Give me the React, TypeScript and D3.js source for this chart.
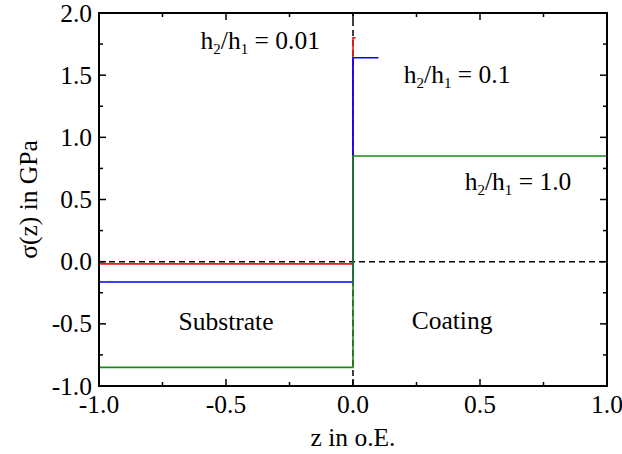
import { useEffect, useRef } from "react";
import * as d3 from "d3";

// stress profiles, one per thickness ratio h2/h1
const ratioLabels = ["0.01", "0.1", "1.0"];
const coatingThickness = [0.01, 0.1, 1.0];
const coatingStress = [1.8, 1.64, 0.85];
const substrateStress = [-0.018, -0.164, -0.85];
const colors = ["#f01818", "#0000ff", "#1a8a1a"];
// where the ratio labels sit (data coords)
const labelX = [-0.6, 0.2, 0.44];
const labelY = [1.71, 1.44, 0.58];

const xTicks = [-1.0, -0.5, 0.0, 0.5, 1.0];
const yTicks = [-1.0, -0.5, 0.0, 0.5, 1.0, 1.5, 2.0];

const FONT = "Liberation Serif, DejaVu Serif, Times New Roman, serif";

const App = () => {
  const svgRef = useRef<SVGSVGElement>(null);
  const width = 622;
  const height = 454;
  const margin = { top: 13, left: 99, bottom: 68, right: 15 };

  useEffect(() => {
    const svg = d3.select(svgRef.current);
    svg.selectAll("*").remove();

    const x = d3
      .scaleLinear()
      .domain([-1, 1])
      .range([margin.left, width - margin.right]);
    const y = d3
      .scaleLinear()
      .domain([-1, 2])
      .range([height - margin.bottom, margin.top]);

    // dashed zero lines
    svg
      .append("line")
      .attr("x1", x(-1))
      .attr("x2", x(1))
      .attr("y1", y(0))
      .attr("y2", y(0))
      .attr("stroke", "black")
      .attr("stroke-width", 1.5)
      .attr("stroke-dasharray", "6,4");
    svg
      .append("line")
      .attr("x1", x(0))
      .attr("x2", x(0))
      .attr("y1", y(-1))
      .attr("y2", y(2))
      .attr("stroke", "black")
      .attr("stroke-width", 1.5)
      .attr("stroke-dasharray", "6,4");

    const line = d3
      .line<[number, number]>()
      .x((d) => x(d[0]))
      .y((d) => y(d[1]));

    ratioLabels.forEach((_, i) => {
      const pts: [number, number][] = [
        [-1, substrateStress[i]],
        [0, substrateStress[i]],
        [0, coatingStress[i]],
        [coatingThickness[i], coatingStress[i]],
      ];
      svg
        .append("path")
        .attr("d", line(pts))
        .attr("fill", "none")
        .attr("stroke", colors[i])
        .attr("stroke-width", 1.6);
    });

    // frame with inward ticks on all sides
    const tickLen = 7;
    const minorLen = 4;
    const g = svg.append("g").attr("stroke", "black").attr("stroke-width", 1.5);
    g.append("rect")
      .attr("x", x(-1))
      .attr("y", y(2))
      .attr("width", x(1) - x(-1))
      .attr("height", y(-1) - y(2))
      .attr("fill", "none")
      .attr("stroke-width", 2);

    const xMinor = d3.range(-1, 1.001, 0.25);
    xMinor.forEach((v) => {
      const major = Math.abs(v * 2 - Math.round(v * 2)) < 1e-6;
      const len = major ? tickLen : minorLen;
      g.append("line").attr("x1", x(v)).attr("x2", x(v)).attr("y1", y(-1)).attr("y2", y(-1) - len);
      g.append("line").attr("x1", x(v)).attr("x2", x(v)).attr("y1", y(2)).attr("y2", y(2) + len);
    });
    const yMinor = d3.range(-1, 2.001, 0.25);
    yMinor.forEach((v) => {
      const major = Math.abs(v * 2 - Math.round(v * 2)) < 1e-6;
      const len = major ? tickLen : minorLen;
      g.append("line").attr("x1", x(-1)).attr("x2", x(-1) + len).attr("y1", y(v)).attr("y2", y(v));
      g.append("line").attr("x1", x(1)).attr("x2", x(1) - len).attr("y1", y(v)).attr("y2", y(v));
    });

    const fmt = (d: number) => d3.format(".1f")(d).replace("−", "-");

    // tick labels
    svg
      .selectAll(".xt")
      .data(xTicks)
      .enter()
      .append("text")
      .attr("x", (d) => x(d))
      .attr("y", y(-1) + 27)
      .attr("text-anchor", "middle")
      .style("font-family", FONT)
      .style("font-size", "25.5px")
      .text(fmt);
    svg
      .selectAll(".yt")
      .data(yTicks)
      .enter()
      .append("text")
      .attr("x", x(-1) - 7)
      .attr("y", (d) => y(d) + 8.5)
      .attr("text-anchor", "end")
      .style("font-family", FONT)
      .style("font-size", "25.5px")
      .text(fmt);

    // axis titles
    svg
      .append("text")
      .attr("x", x(0))
      .attr("y", 446)
      .attr("text-anchor", "middle")
      .style("font-family", FONT)
      .style("font-size", "25.5px")
      .text("z in o.E.");
    svg
      .append("text")
      .attr("transform", `translate(37,${y(0.5)}) rotate(-90)`)
      .attr("text-anchor", "middle")
      .style("font-family", FONT)
      .style("font-size", "25.5px")
      .text("σ(z) in GPa");

    // ratio labels with subscripts
    ratioLabels.forEach((r, i) => {
      const t = svg
        .append("text")
        .attr("x", x(labelX[i]))
        .attr("y", y(labelY[i]))
        .style("font-family", FONT)
        .style("font-size", "25.5px");
      t.append("tspan").text("h");
      t.append("tspan").style("font-size", "15px").attr("dy", 5).text("2");
      t.append("tspan").attr("dy", -5).text("/h");
      t.append("tspan").style("font-size", "15px").attr("dy", 5).text("1");
      t.append("tspan").attr("dy", -5).text(` = ${r}`);
    });

    svg
      .append("text")
      .attr("x", x(-0.5))
      .attr("y", y(-0.55))
      .attr("text-anchor", "middle")
      .style("font-family", FONT)
      .style("font-size", "25.5px")
      .text("Substrate");
    svg
      .append("text")
      .attr("x", x(0.39))
      .attr("y", y(-0.54))
      .attr("text-anchor", "middle")
      .style("font-family", FONT)
      .style("font-size", "25.5px")
      .text("Coating");
  }, []);

  return (
    <svg
      ref={svgRef}
      width={width}
      height={height}
      style={{ position: "absolute", left: 0, top: 0, background: "white" }}
    />
  );
};

export default App;
